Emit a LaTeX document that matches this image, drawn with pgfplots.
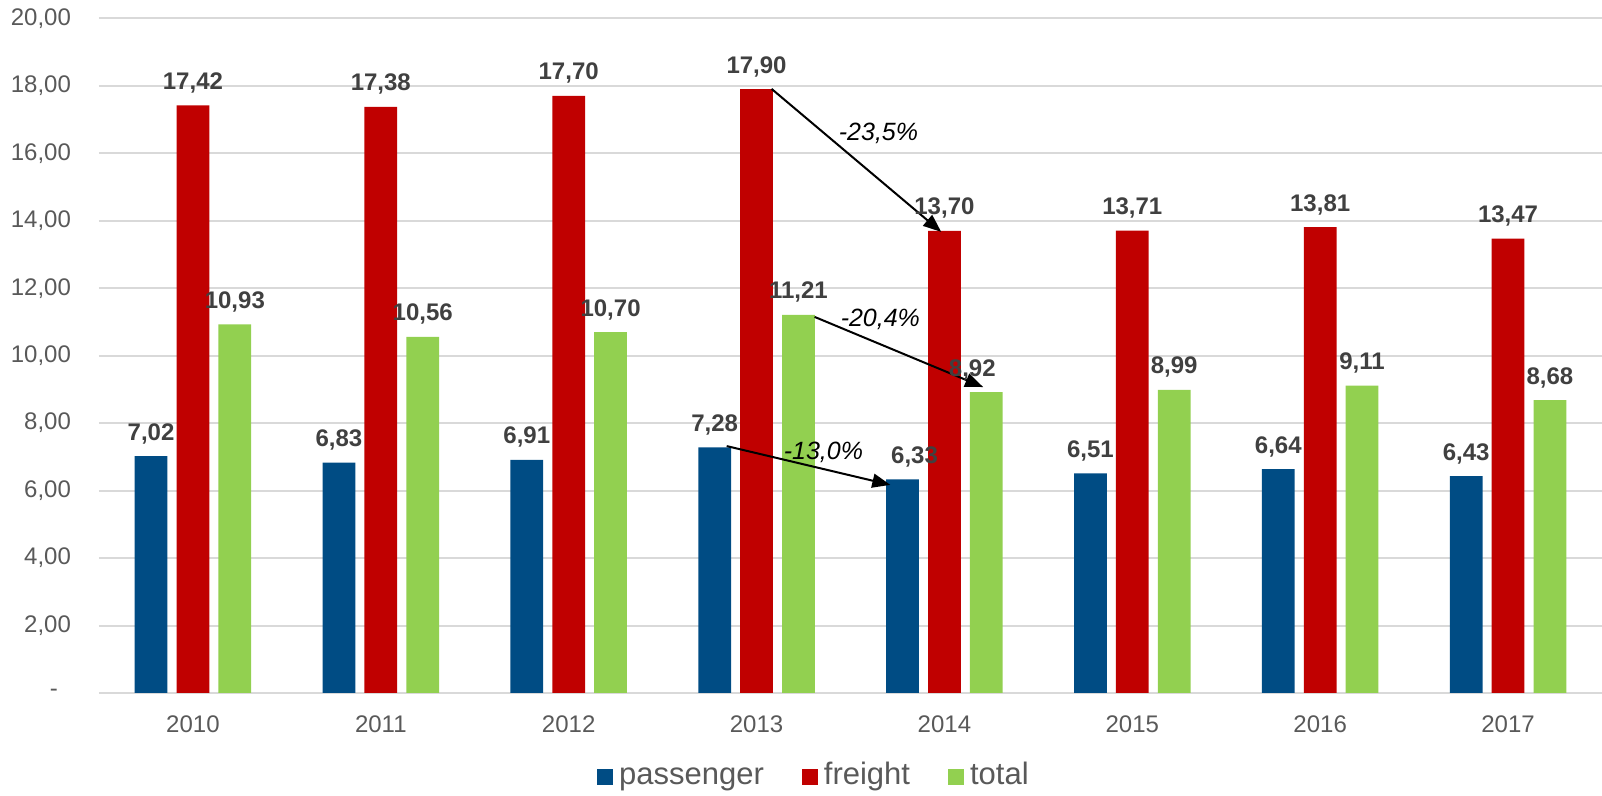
\documentclass[border=0pt]{standalone}
\usepackage{fontspec}
\setmainfont{Liberation Sans}
\usepackage{pgfplots}
\pgfplotsset{compat=1.18}
\usepackage{pgfplotstable}
\usetikzlibrary{arrows.meta}
\definecolor{cpass}{HTML}{004C84}
\definecolor{cfreight}{HTML}{C00000}
\definecolor{ctotal}{HTML}{92D050}
\definecolor{clabel}{HTML}{404040}
\definecolor{ctick}{HTML}{595959}
\definecolor{cgrid}{HTML}{D9D9D9}

\pgfplotstableread{
x y dx
0 7.02 0
1 6.83 0
2 6.91 0
3 7.28 0
4 6.33 6
5 6.51 0
6 6.64 0
7 6.43 0
}\passenger
\pgfplotstableread{
x y dx
0 17.42 0
1 17.38 0
2 17.70 0
3 17.90 0
4 13.70 0
5 13.71 0
6 13.81 0
7 13.47 0
}\freight
\pgfplotstableread{
x y dx
0 10.93 0
1 10.56 0
2 10.70 0
3 11.21 0
4 8.92 -7
5 8.99 0
6 9.11 0
7 8.68 0
}\total

\begin{document}
\begin{tikzpicture}
\useasboundingbox (-49.5pt,-51.5pt) rectangle (751.5pt,346.5pt);
\begin{axis}[
  at={(0pt,0pt)}, anchor=south west,
  scale only axis, width=751.5pt, height=337.3pt,
  xmin=-0.5, xmax=7.5, ymin=0, ymax=20,
  ybar=4.6pt, bar width=16.35pt,
  xtick={0,1,2,3,4,5,6,7},
  xticklabels={2010,2011,2012,2013,2014,2015,2016,2017},
  ytick={0,2,4,6,8,10,12,14,16,18,20},
  yticklabels={{-\rule{6.5pt}{0pt}},{2,00},{4,00},{6,00},{8,00},{10,00},{12,00},{14,00},{16,00},{18,00},{20,00}},
  ymajorgrids, grid style={cgrid, line width=1pt},
  axis line style={draw=none},
  major tick length=0pt,
  tick label style={font=\fontsize{12}{14}\selectfont, text=ctick},
  xticklabel style={anchor=base, yshift=-19.75pt},
  yticklabel style={xshift=-10.5pt},
  nodes near coords={\pgfmathprintnumber[fixed,fixed zerofill,precision=2,use comma,assume math mode=true]{\pgfplotspointmeta}},
  visualization depends on={\thisrow{dx} \as \dx},
  nodes near coords style={anchor=base, font=\fontsize{12}{14}\selectfont\bfseries, text=clabel, xshift=\dx pt, yshift=8pt},
  legend style={at={(0.477,-0.1245)}, anchor=center, draw=none, fill=none,
    legend columns=3, font=\fontsize{15.5}{18}\selectfont, text=ctick,
    nodes={text height=11.5pt, text depth=3.5pt, inner xsep=3pt},
    /tikz/every even column/.append style={column sep=16pt}},
  legend image code/.code={\fill[#1] (0pt,-4pt) rectangle (8pt,4pt);},
]
\addplot[fill=cpass, draw=none] table[x=x,y=y] {\passenger};
\addplot[fill=cfreight, draw=none] table[x=x,y=y] {\freight};
\addplot[fill=ctotal, draw=none] table[x=x,y=y] {\total};
\legend{passenger,freight,total}

\draw[line width=1pt, -{Triangle[length=9pt,width=7pt]}] (axis cs:3.080,17.91) -- (axis cs:3.983,13.67);
\draw[line width=1pt, -{Triangle[length=9pt,width=7pt]}] (axis cs:3.309,11.15) -- (axis cs:4.206,9.07);
\draw[line width=1pt, -{Triangle[length=9pt,width=7pt]}] (axis cs:2.841,7.32) -- (axis cs:3.712,6.17);
\node[font=\fontsize{12.5}{15}\selectfont\itshape] at (axis cs:3.649,16.60) {-23,5\%};
\node[font=\fontsize{12.5}{15}\selectfont\itshape] at (axis cs:3.659,11.09) {-20,4\%};
\node[font=\fontsize{12.5}{15}\selectfont\itshape] at (axis cs:3.356,7.12) {-13,0\%};
\end{axis}
\end{tikzpicture}
\end{document}
